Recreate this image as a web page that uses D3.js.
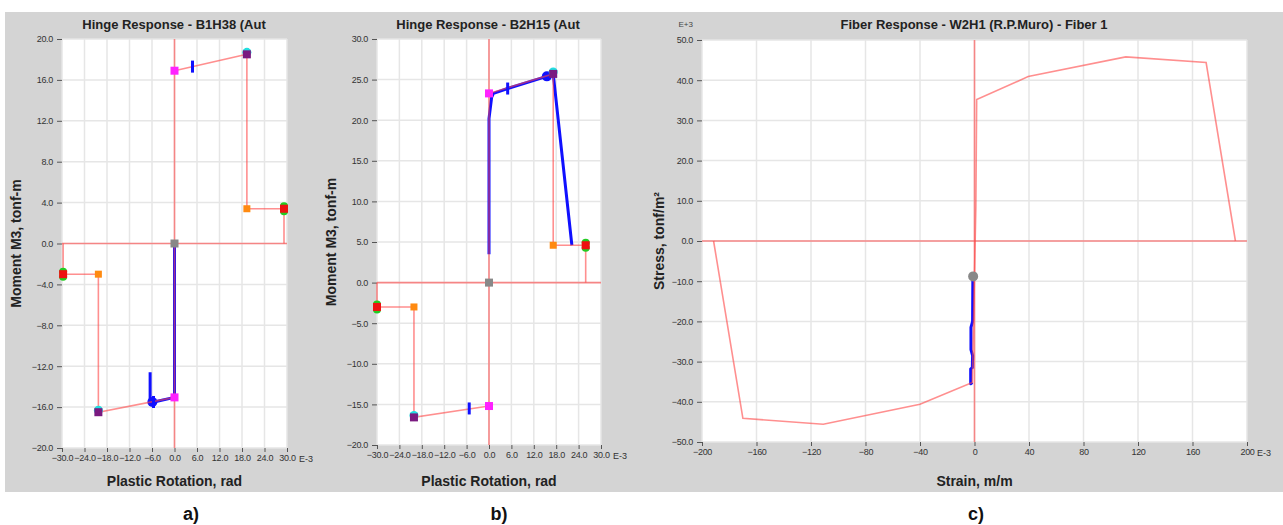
<!DOCTYPE html>
<html>
<head>
<meta charset="utf-8">
<script src="https://cdn.jsdelivr.net/npm/d3@7"></script>
<style>
  body { margin: 0; background: #fff; }
  svg { display: block; font-family: "Liberation Sans", Arial, sans-serif; }
</style>
</head>
<body>
<svg id="fig" width="1283" height="525"></svg>
<script>
// ---- panel a : B1H38 hinge ----
var aXTicks = [-30, -24, -18, -12, -6, 0, 6, 12, 18, 24, 30];
var aYTicks = [-20, -16, -12, -8, -4, 0, 4, 8, 12, 16, 20];
var aBackbonePos = [[0, 16.9], [19.3, 18.5], [19.3, 3.4], [29.2, 3.4], [29.2, 0]];
var aBackboneNeg = [[-29.7, 0], [-29.7, -3.0], [-20.3, -3.0], [-20.3, -16.5], [0, -15.05]];
var aResponse = [[0, 0], [0, -15.05], [-5.5, -15.5], [-6.5, -15.5], [-6.5, -12.6]];
var aBlobs = [[-5.9, -15.5]];
var aTicksIO = [[4.8, 17.3], [-5.6, -15.5]];
var aMagenta = [[0, 16.9], [0, -15.05]];
var aPurple = [[19.3, 18.5], [-20.3, -16.5]];
var aOrange = [[19.3, 3.4], [-20.3, -3.0]];
var aRed = [[29.2, 3.4], [-29.7, -3.0]];
var aGray = [[0, 0]];

// ---- panel b : B2H15 hinge ----
var bXTicks = [-30, -24, -18, -12, -6, 0, 6, 12, 18, 24, 30];
var bYTicks = [-20, -15, -10, -5, 0, 5, 10, 15, 20, 25, 30];
var bBackbonePos = [[0, 23.3], [17.2, 25.7], [17.2, 4.6], [25.9, 4.6], [25.9, 0]];
var bBackboneNeg = [[-30, 0], [-30, -3.0], [-20.1, -3.0], [-20.1, -16.6], [0, -15.2]];
var bResponse = [[0, 3.5], [0, 20.2], [0.7, 22.8], [1.2, 23.3], [5, 23.9], [15.5, 25.4], [17.2, 25.7], [22.2, 4.6]];
var bBlobs = [[15.5, 25.4]];
var bTicksIO = [[5, 23.9], [-5.3, -15.5]];
var bMagenta = [[0, 23.3], [0, -15.2]];
var bPurple = [[17.2, 25.7], [-20.1, -16.6]];
var bOrange = [[17.2, 4.6], [-20.1, -3.0]];
var bRed = [[25.9, 4.6], [-30, -3.0]];
var bGray = [[0, 0]];

// ---- panel c : W2H1 fiber ----
var cXTicks = [-200, -160, -120, -80, -40, 0, 40, 80, 120, 160, 200];
var cYTicks = [-50, -40, -30, -20, -10, 0, 10, 20, 30, 40, 50];
var cCurve = [[-191.5, 0], [-170, -44.1], [-111, -45.6], [-40, -40.6], [-1.6, -35.2], [1.0, 8.6], [1.6, 35.2],
              [39.4, 40.9], [111, 45.8], [170, 44.4], [191.5, 0]];
var cResponse = [[-1.2, -8.8], [-1.4, -20], [-2.6, -21.5], [-2.6, -27], [-1.4, -28.5], [-1.6, -31.5],
                 [-2.8, -31.8], [-2.8, -35.5], [-1.6, -35.2]];
var cGray = [[-1.0, -8.8]];

var svg = d3.select("#fig");

svg.append("rect")
    .attr("x", 5).attr("y", 12)
    .attr("width", 1278).attr("height", 480)
    .attr("fill", "#d4d4d4");

var RED = "#ff4444";

function drawPanel(p) {
  var x = d3.scaleLinear().domain(p.xDomain).range([p.left, p.right]);
  var y = d3.scaleLinear().domain(p.yDomain).range([p.bottom, p.top]);
  var g = svg.append("g");
  var line = d3.line().x(function(d) { return x(d[0]); }).y(function(d) { return y(d[1]); });

  g.append("rect")
      .attr("x", p.left).attr("y", p.top)
      .attr("width", p.right - p.left).attr("height", p.bottom - p.top)
      .attr("fill", "#fff");

  // grid
  g.selectAll(".gx").data(p.xTicks).enter().append("line")
      .attr("x1", x).attr("x2", x)
      .attr("y1", p.top).attr("y2", p.bottom)
      .attr("stroke", "#e6e6e6").attr("stroke-width", 1.5);
  g.selectAll(".gy").data(p.yTicks).enter().append("line")
      .attr("y1", y).attr("y2", y)
      .attr("x1", p.left).attr("x2", p.right)
      .attr("stroke", "#e6e6e6").attr("stroke-width", 1.5);

  // axes
  var xa = g.append("g")
      .attr("transform", "translate(0," + p.bottom + ")")
      .call(d3.axisBottom(x).tickValues(p.xTicks).tickSize(4).tickPadding(3).tickFormat(p.xFormat));
  var ya = g.append("g")
      .attr("transform", "translate(" + p.left + ",0)")
      .call(d3.axisLeft(y).tickValues(p.yTicks).tickSize(5).tickPadding(4).tickFormat(p.yFormat));
  [xa, ya].forEach(function(a) {
    a.select(".domain").remove();
    a.selectAll("line").attr("stroke", "#555");
    a.selectAll("text").attr("fill", "#333").style("font-size", "9px").style("letter-spacing", "-0.3px");
  });

  g.append("text")
      .attr("x", p.right + p.eOffset).attr("y", p.bottom + 13.5)
      .attr("fill", "#333").style("font-size", "9px")
      .text("E-3");

  // blue response underneath
  g.append("path")
      .datum(p.response)
      .attr("d", line)
      .attr("fill", "none")
      .attr("stroke", "#1010ff")
      .attr("stroke-width", 3)
      .attr("stroke-linejoin", "round");

  g.selectAll(".blob").data(p.blobs || []).enter().append("circle")
      .attr("cx", function(d) { return x(d[0]); })
      .attr("cy", function(d) { return y(d[1]); })
      .attr("r", 5).attr("fill", "#1010ff");

  // zero axes in red
  g.append("line")
      .attr("x1", x(0)).attr("x2", x(0)).attr("y1", p.top).attr("y2", p.bottom)
      .attr("stroke", RED).attr("stroke-opacity", 0.6).attr("stroke-width", 1.6);
  g.append("line")
      .attr("x1", p.left).attr("x2", p.right).attr("y1", y(0)).attr("y2", y(0))
      .attr("stroke", RED).attr("stroke-opacity", 0.6).attr("stroke-width", 1.6);

  (p.backbones || []).forEach(function(b) {
    g.append("path")
        .datum(b)
        .attr("d", line)
        .attr("fill", "none")
        .attr("stroke", RED)
        .attr("stroke-opacity", 0.6)
        .attr("stroke-width", 1.6);
  });

  g.selectAll(".io").data(p.ticksIO || []).enter().append("rect")
      .attr("x", function(d) { return x(d[0]) - 1.5; })
      .attr("y", function(d) { return y(d[1]) - 6; })
      .attr("width", 3).attr("height", 12)
      .attr("fill", "#1010ff");

  // markers
  function circles(data, color, r, dy) {
    g.selectAll(null).data(data || []).enter().append("circle")
        .attr("cx", function(d) { return x(d[0]); })
        .attr("cy", function(d) { return y(d[1]) + dy; })
        .attr("r", r).attr("fill", color);
  }
  function squares(data, color, s) {
    g.selectAll(null).data(data || []).enter().append("rect")
        .attr("x", function(d) { return x(d[0]) - s / 2; })
        .attr("y", function(d) { return y(d[1]) - s / 2; })
        .attr("width", s).attr("height", s)
        .attr("fill", color);
  }
  circles(p.purple, "#22dde0", 4.5, -2);
  circles(p.red, "#22cc22", 4, -2.5);
  circles(p.red, "#22cc22", 4, 2.5);
  squares(p.magenta, "#ff22ff", 8);
  squares(p.purple, "#7a1a80", 8);
  squares(p.orange, "#ff8a10", 7);
  squares(p.red, "#ee1111", 8);
  squares(p.gray, "#888", 8);
  circles(p.grayDots, "#888", 5, 0);

  // titles
  g.append("text")
      .attr("x", p.titleX).attr("y", 29)
      .attr("text-anchor", "middle")
      .attr("fill", "#222")
      .style("font-size", "13px").style("font-weight", "bold")
      .text(p.title);
  g.append("text")
      .attr("x", (p.left + p.right) / 2).attr("y", 486)
      .attr("text-anchor", "middle")
      .attr("fill", "#222")
      .style("font-size", "14px").style("font-weight", "bold")
      .text(p.xTitle);
  g.append("text")
      .attr("transform", "translate(" + p.yTitleX + "," + (p.top + p.bottom) / 2 + ")rotate(-90)")
      .attr("text-anchor", "middle")
      .attr("fill", "#222")
      .style("font-size", "14px").style("font-weight", "bold")
      .text(p.yTitle);
  g.append("text")
      .attr("x", p.labelX).attr("y", 520)
      .attr("text-anchor", "middle")
      .attr("fill", "#111")
      .style("font-size", "18px").style("font-weight", "bold")
      .text(p.label);
  return {x: x, y: y};
}

var f1 = d3.format(".1f");

drawPanel({
  left: 62, right: 287, top: 39, bottom: 448,
  xDomain: [-30, 30], yDomain: [-20, 20],
  xTicks: aXTicks, yTicks: aYTicks, xFormat: f1, yFormat: f1, eOffset: 12,
  response: aResponse, blobs: aBlobs, backbones: [aBackbonePos, aBackboneNeg], ticksIO: aTicksIO,
  magenta: aMagenta, purple: aPurple, orange: aOrange, red: aRed, gray: aGray,
  title: "Hinge Response - B1H38 (Aut", titleX: 174,
  xTitle: "Plastic Rotation, rad", yTitle: "Moment M3, tonf-m", yTitleX: 21,
  label: "a)", labelX: 191
});

drawPanel({
  left: 377, right: 601, top: 39, bottom: 445,
  xDomain: [-30, 30], yDomain: [-20, 30],
  xTicks: bXTicks, yTicks: bYTicks, xFormat: f1, yFormat: f1, eOffset: 12,
  response: bResponse, blobs: bBlobs, backbones: [bBackbonePos, bBackboneNeg], ticksIO: bTicksIO,
  magenta: bMagenta, purple: bPurple, orange: bOrange, red: bRed, gray: bGray,
  title: "Hinge Response - B2H15 (Aut", titleX: 488,
  xTitle: "Plastic Rotation, rad", yTitle: "Moment M3, tonf-m", yTitleX: 336,
  label: "b)", labelX: 499
});

drawPanel({
  left: 702, right: 1247, top: 40, bottom: 442,
  xDomain: [-200, 200], yDomain: [-50, 50],
  xTicks: cXTicks, yTicks: cYTicks, xFormat: d3.format("d"), yFormat: f1, eOffset: 10,
  response: cResponse, backbones: [cCurve], grayDots: cGray,
  title: "Fiber Response - W2H1 (R.P.Muro) - Fiber 1", titleX: 974,
  xTitle: "Strain, m/m", yTitle: "Stress, tonf/m²", yTitleX: 664,
  label: "c)", labelX: 976
});

svg.append("text")
    .attr("x", 693).attr("y", 27)
    .attr("text-anchor", "end")
    .attr("fill", "#444")
    .style("font-size", "8px")
    .text("E+3");
</script>
</body>
</html>
